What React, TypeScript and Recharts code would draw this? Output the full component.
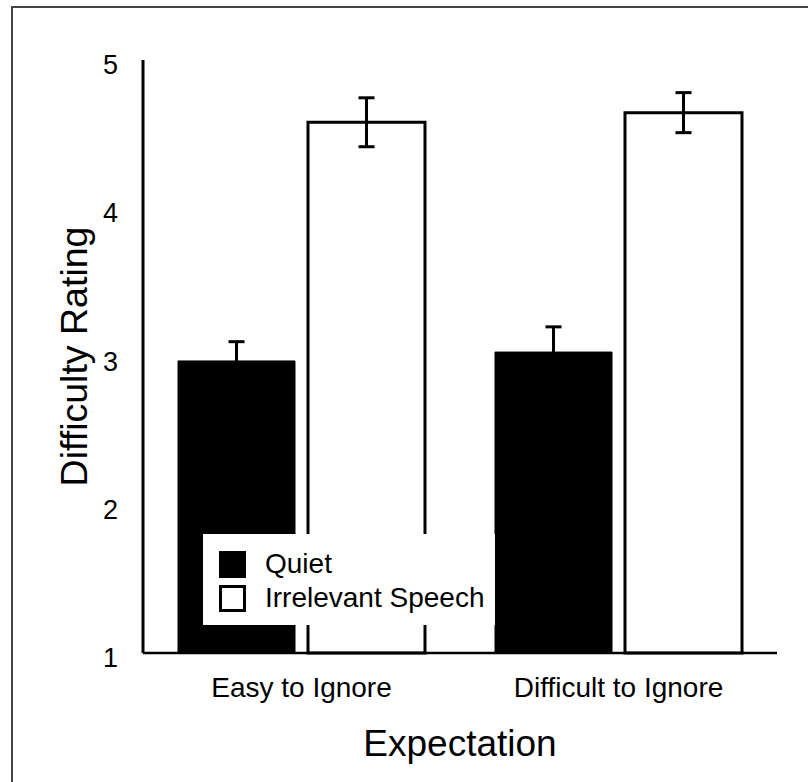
import React from 'react';
import { BarChart, Bar, XAxis, YAxis, ErrorBar } from 'recharts';

const categories = ['Easy to Ignore', 'Difficult to Ignore'];
const quietValues = [2.97, 3.03];
const quietErrors = [0.13, 0.17];
const speechValues = [4.58, 4.645];
const speechErrors = [0.165, 0.135];
const yTicks = [1, 2, 3, 4, 5];
const seriesNames = ['Quiet', 'Irrelevant Speech'];
const seriesFills = ['#000', '#fff'];
const xTitle = 'Expectation';
const yTitle = 'Difficulty Rating';

const data = categories.map((c, i) => ({
  category: c,
  quiet: quietValues[i],
  quietErr: quietErrors[i],
  speech: speechValues[i],
  speechErr: speechErrors[i],
}));

const FONT = '"Liberation Sans", Arial, Helvetica, sans-serif';

const YTick = (props: any) => {
  const { x, y, payload } = props;
  return (
    <text x={x} y={y} dx={-17} dy={14} textAnchor="end" fontSize={27} fill="#000" fontFamily={FONT}>
      {payload.value}
    </text>
  );
};

const XTick = (props: any) => {
  const { x, y, payload } = props;
  return (
    <text x={x} y={y} dy={36} textAnchor="middle" fontSize={28} fill="#000" fontFamily={FONT}>
      {payload.value}
    </text>
  );
};

const LegendBox = () => (
  <div
    style={{
      position: 'absolute',
      left: 203,
      top: 534,
      width: 292,
      height: 91,
      background: '#fff',
      boxSizing: 'border-box',
      paddingLeft: 16,
      paddingTop: 13,
      fontFamily: FONT,
      fontSize: 28,
      color: '#000',
    }}
  >
    {seriesNames.map((name, i) => (
      <div key={name} style={{ display: 'flex', alignItems: 'center', height: 34 }}>
        <div
          style={{
            width: 27,
            height: 27,
            boxSizing: 'border-box',
            background: seriesFills[i],
            border: '3px solid #000',
            marginRight: 19,
            flex: 'none',
          }}
        />
        <span style={{ lineHeight: '34px', whiteSpace: 'nowrap' }}>{name}</span>
      </div>
    ))}
  </div>
);

export default function App() {
  return (
    <div
      style={{
        position: 'absolute',
        left: 0,
        top: 0,
        width: 808,
        height: 782,
        overflow: 'hidden',
        background: '#fff',
      }}
    >
      <div
        style={{
          position: 'absolute',
          left: 11,
          top: 6,
          width: 1000,
          height: 1000,
          borderTop: '2px solid #444',
          borderLeft: '2px solid #444',
        }}
      />
      <div style={{ position: 'absolute', left: 0, top: 0 }}>
        <BarChart
          width={808}
          height={782}
          data={data}
          margin={{ top: 60, right: 31, bottom: 0, left: 0 }}
          barCategoryGap={35}
          barGap={13}
        >
          <XAxis
            dataKey="category"
            height={129}
            axisLine={{ stroke: '#000', strokeWidth: 2.5 }}
            tickLine={false}
            tick={<XTick />}
            interval={0}
            label={{
              content: (p: any) => {
                const vb = p.viewBox || {};
                return (
                  <text
                    x={vb.x + vb.width / 2}
                    y={756}
                    textAnchor="middle"
                    fontSize={37}
                    fill="#000"
                    fontFamily={FONT}
                  >
                    {xTitle}
                  </text>
                );
              },
            }}
          />
          <YAxis
            type="number"
            domain={[1, 5]}
            ticks={yTicks}
            width={143}
            axisLine={{ stroke: '#000', strokeWidth: 3 }}
            tickLine={false}
            tick={<YTick />}
            interval={0}
            label={{
              content: (p: any) => {
                const vb = p.viewBox || {};
                const cy = vb.y + vb.height / 2;
                return (
                  <text
                    x={87}
                    y={cy}
                    transform={`rotate(-90, 87, ${cy})`}
                    textAnchor="middle"
                    fontSize={37.5}
                    fill="#000"
                    fontFamily={FONT}
                  >
                    {yTitle}
                  </text>
                );
              },
            }}
          />
          <Bar dataKey="quiet" name={seriesNames[0]} fill={seriesFills[0]} stroke="#000" strokeWidth={1} isAnimationActive={false}>
            <ErrorBar dataKey="quietErr" width={8} stroke="#000" strokeWidth={3} direction="y" />
          </Bar>
          <Bar dataKey="speech" name={seriesNames[1]} fill={seriesFills[1]} stroke="#000" strokeWidth={3} isAnimationActive={false}>
            <ErrorBar dataKey="speechErr" width={8} stroke="#000" strokeWidth={3} direction="y" />
          </Bar>
        </BarChart>
      </div>
      <LegendBox />
    </div>
  );
}
